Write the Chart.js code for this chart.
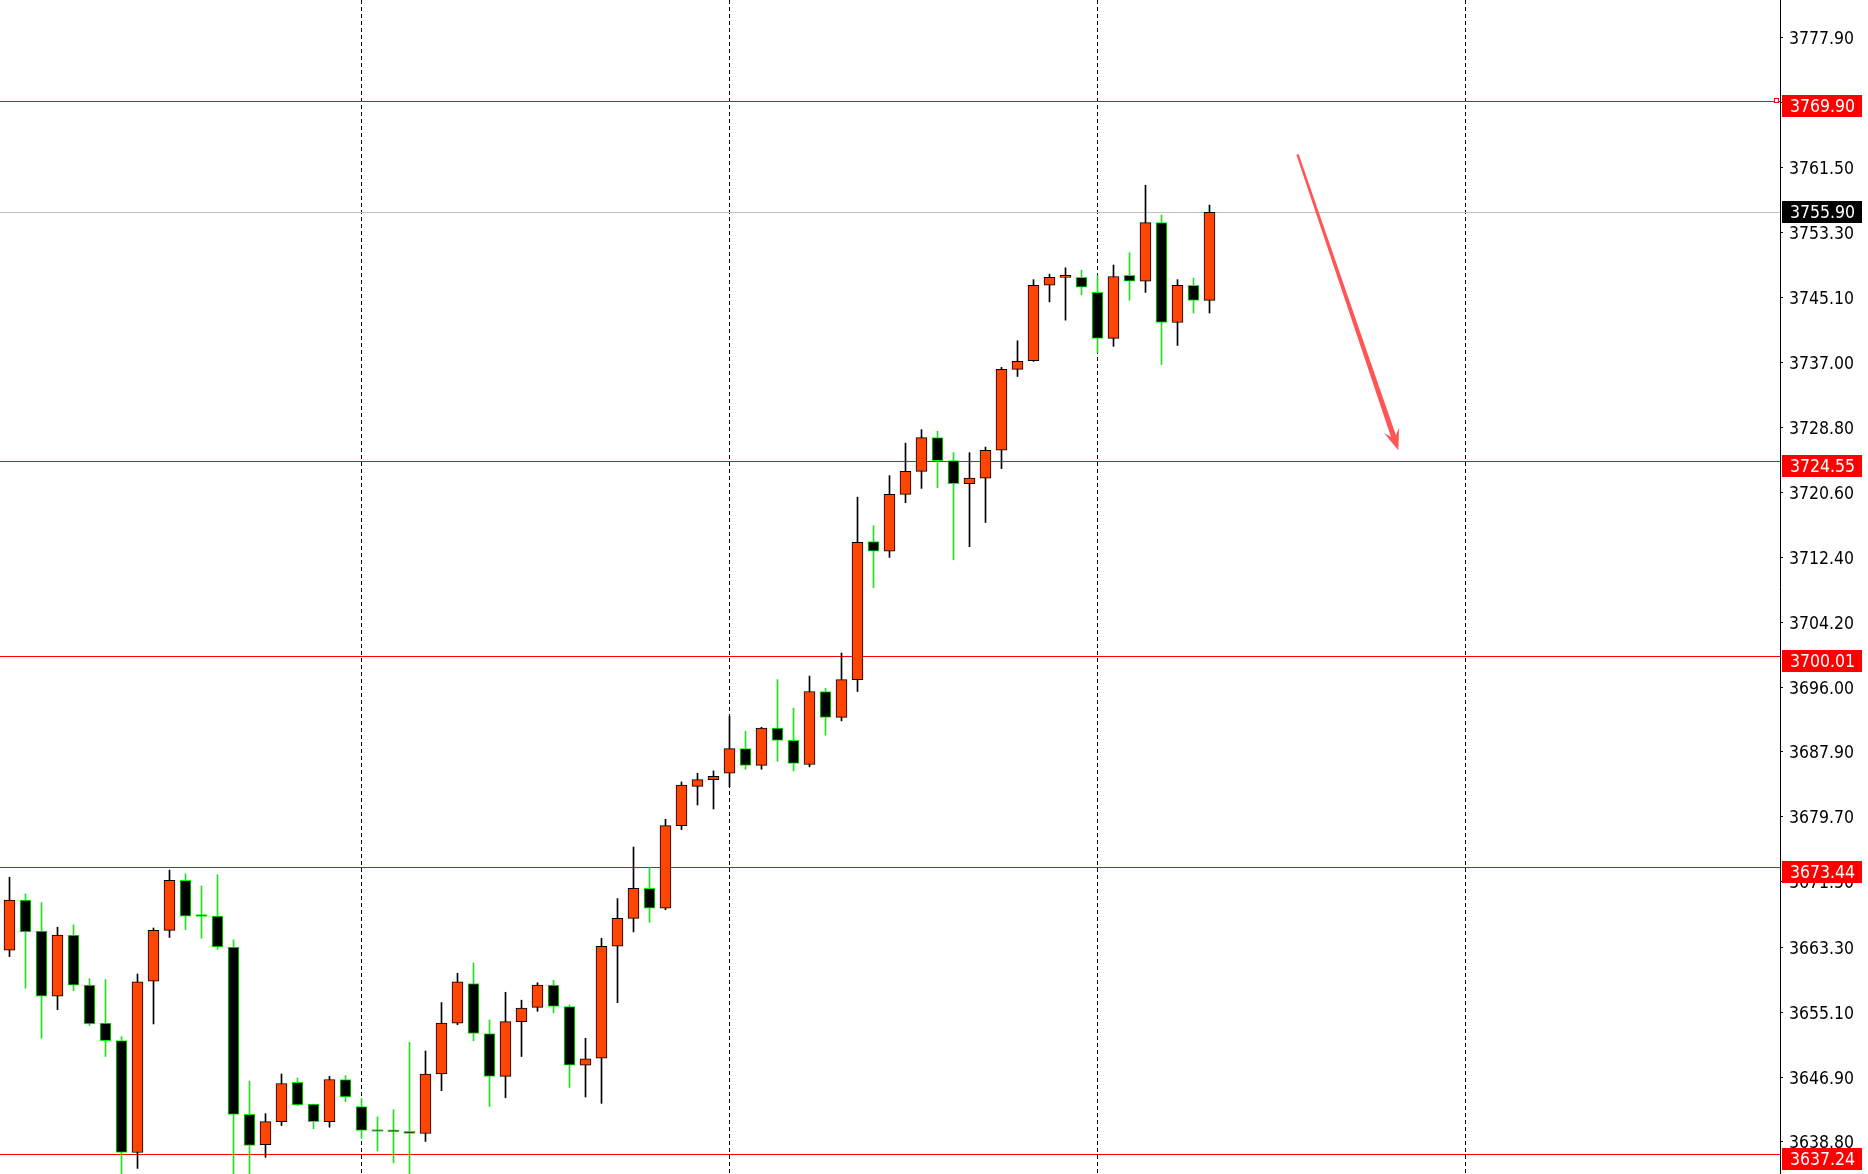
<!DOCTYPE html>
<html><head><meta charset="utf-8">
<style>html,body{margin:0;padding:0;background:#fff;overflow:hidden}canvas{display:block}</style>
<script src="https://cdn.jsdelivr.net/npm/chart.js@4.4.1/dist/chart.umd.min.js"></script>
</head><body>
<canvas id="c" width="1868" height="1174"></canvas>
<script>
// ---- data ----
const opens  = [3662.9,3669.2,3665.3,3657.1,3664.8,3658.5,3653.7,3651.5,3637.4,3659.0,
                3665.4,3671.7,3667.2,3667.2,3663.3,3642.2,3638.4,3641.3,3646.25,3643.5,
                3641.3,3646.6,3643.2,3640.2,3640.07,3640.07,3639.8,3647.3,3653.7,3658.7,
                3652.4,3647.0,3653.9,3655.7,3658.5,3655.8,3648.4,3649.3,3663.4,3666.9,
                3670.7,3668.2,3678.6,3683.55,3684.4,3685.2,3688.3,3686.2,3690.9,3689.35,
                3686.3,3695.5,3692.25,3697.0,3714.4,3713.2,3720.35,3723.25,3727.5,3724.6,
                3721.7,3722.4,3725.9,3736.1,3737.2,3746.7,3747.7,3747.7,3745.8,3740.0,
                3747.95,3747.2,3754.6,3742.0,3746.7,3744.8];
const highs  = [3672.1,3670.0,3668.9,3665.8,3666.1,3659.3,3659.2,3652.0,3659.9,3665.7,
                3673.0,3672.5,3671.0,3672.4,3664.2,3646.4,3642.3,3647.3,3646.8,3643.5,
                3647.0,3647.1,3644.2,3641.9,3642.8,3651.3,3650.2,3656.3,3660.0,3661.3,
                3654.1,3657.6,3656.6,3658.8,3659.1,3656.0,3651.8,3664.4,3669.4,3675.9,
                3673.3,3679.4,3684.1,3685.2,3685.5,3692.4,3690.5,3691.0,3697.0,3693.4,
                3697.45,3695.9,3700.35,3720.0,3716.4,3722.7,3726.8,3728.5,3728.3,3725.6,
                3725.6,3726.3,3736.35,3739.7,3747.4,3748.1,3748.9,3748.6,3747.9,3749.25,
                3750.8,3759.3,3755.55,3747.4,3747.6,3756.8];
const lows   = [3662.1,3658.1,3651.8,3655.4,3657.8,3653.4,3649.5,3633.0,3635.4,3653.6,
                3664.5,3665.5,3664.4,3663.0,3633.0,3633.0,3636.8,3640.8,3643.3,3640.4,
                3640.6,3643.8,3639.2,3637.6,3636.1,3633.0,3638.8,3645.2,3653.5,3651.5,
                3643.2,3644.3,3649.5,3655.2,3655.0,3645.6,3644.4,3643.6,3656.3,3665.2,
                3666.4,3668.0,3678.1,3681.2,3680.7,3683.5,3685.7,3685.7,3686.7,3685.5,
                3686.0,3690.0,3691.8,3695.5,3708.6,3712.4,3719.3,3721.1,3721.2,3712.1,
                3713.75,3716.8,3723.6,3735.2,3737.1,3744.6,3742.3,3745.5,3738.2,3739.0,
                3744.8,3745.8,3736.7,3739.1,3743.2,3743.2];
const closes = [3669.2,3665.2,3657.1,3664.8,3658.5,3653.6,3651.5,3637.4,3658.9,3665.4,
                3671.7,3667.2,3667.15,3663.3,3642.2,3638.3,3641.3,3646.1,3643.4,3641.3,
                3646.6,3644.4,3640.2,3640.05,3640.0,3639.8,3647.3,3653.7,3658.9,3652.4,
                3647.0,3653.9,3655.6,3658.5,3655.8,3648.4,3649.2,3663.4,3666.9,3670.7,
                3668.2,3678.6,3683.7,3684.4,3684.8,3688.3,3686.2,3690.9,3689.35,3686.45,
                3695.5,3692.25,3697.0,3714.3,3713.2,3720.35,3723.25,3727.5,3724.6,3721.7,
                3722.4,3725.9,3736.1,3737.1,3746.7,3747.7,3747.8,3746.45,3740.0,3747.8,
                3747.2,3754.6,3742.0,3746.7,3744.8,3755.9];
const yTickValues = [3777.90,3769.70,3761.50,3753.30,3745.10,3737.00,3728.80,3720.60,3712.40,
                     3704.20,3696.00,3687.90,3679.70,3671.50,3663.30,3655.10,3646.90,3638.80];
const levelLines = [3769.90, 3724.55, 3700.01, 3673.44, 3637.24];
const currentPrice = 3755.90;
const separatorBars = [22, 45, 68, 91];
const arrowFrom = [80.5, 3763.2];
const arrowTo   = [86.8, 3725.9];

// ---- styles ----
const BULL_FILL = '#ff4500', BULL_LINE = '#000000';
const BEAR_FILL = '#000000', BEAR_LINE = '#00ff00', BEAR_WICK = '#1fe01f';
const FONT = '"DejaVu Sans Condensed", "DejaVu Sans", sans-serif';
const FONT_SIZE = 17.5;

const isBull = i => closes[i] > opens[i];
const idx = opens.map((_, i) => i);

const bodyData = idx.map(i => ({x: i, y: [opens[i], closes[i]]}));
const wickData = idx.map(i => ({x: i, y: [lows[i], highs[i]]}));

const overlay = {
  id: 'overlay',
  beforeDatasetsDraw(chart) {
    const {ctx, chartArea: a, scales: {x, y}} = chart;
    ctx.save();
    ctx.strokeStyle = '#000'; ctx.lineWidth = 1; ctx.setLineDash([4, 3]);
    separatorBars.forEach(b => {
      const px = Math.round(x.getPixelForValue(b) - 0.5) + 0.5;
      if (px < a.left || px > a.right) return;
      ctx.beginPath(); ctx.moveTo(px, a.top); ctx.lineTo(px, a.bottom); ctx.stroke();
    });
    ctx.setLineDash([]);
    ctx.strokeStyle = '#c0c0c0';
    let py = Math.round(y.getPixelForValue(currentPrice)) + 0.5;
    ctx.beginPath(); ctx.moveTo(a.left, py); ctx.lineTo(a.right, py); ctx.stroke();
    ctx.strokeStyle = '#ff0000';
    levelLines.forEach(v => {
      const ly = Math.round(y.getPixelForValue(v)) + 0.5;
      ctx.beginPath(); ctx.moveTo(a.left, ly); ctx.lineTo(a.right, ly); ctx.stroke();
    });
    ctx.restore();
  },
  afterDatasetsDraw(chart) {
    const {ctx, scales: {x, y}} = chart;
    const p0 = {x: x.getPixelForValue(arrowFrom[0]), y: y.getPixelForValue(arrowFrom[1])};
    const p1 = {x: x.getPixelForValue(arrowTo[0]), y: y.getPixelForValue(arrowTo[1])};
    const dx = p1.x - p0.x, dy = p1.y - p0.y, L = Math.hypot(dx, dy);
    const ux = dx / L, uy = dy / L, nx = -uy, ny = ux;
    const headLen = 21, headW = 8, notch = 15, w0 = 1.2, w1 = 2.6;
    const bx = p1.x - ux * notch, by = p1.y - uy * notch;
    const hx = p1.x - ux * headLen, hy = p1.y - uy * headLen;
    ctx.save();
    ctx.fillStyle = '#ff5555';
    ctx.beginPath();
    ctx.moveTo(p0.x + nx * w0, p0.y + ny * w0);
    ctx.lineTo(bx + nx * w1, by + ny * w1);
    ctx.lineTo(hx + nx * headW, hy + ny * headW);
    ctx.lineTo(p1.x, p1.y);
    ctx.lineTo(hx - nx * headW, hy - ny * headW);
    ctx.lineTo(bx - nx * w1, by - ny * w1);
    ctx.lineTo(p0.x - nx * w0, p0.y - ny * w0);
    ctx.closePath();
    ctx.fill();
    ctx.restore();
  },
  afterDraw(chart) {
    const {ctx, chartArea: a, scales: {y}} = chart;
    ctx.save();
    ctx.font = FONT_SIZE + 'px ' + FONT;
    ctx.textBaseline = 'middle';
    ctx.textAlign = 'left';
    const box = (v, bg, shift) => {
      const ly = Math.round(y.getPixelForValue(v));
      ctx.fillStyle = bg;
      ctx.fillRect(a.right + 2, ly - 11 + shift, 80, 22);
      ctx.fillStyle = '#ffffff';
      ctx.fillText(v.toFixed(2), a.right + 10, ly + 1 + shift);
    };
    levelLines.forEach(v => box(v, '#ff0000', 5));
    box(currentPrice, '#000000', 0);
    const sy = Math.round(y.getPixelForValue(levelLines[0]));
    ctx.strokeStyle = '#ff0000'; ctx.lineWidth = 1;
    ctx.fillStyle = '#ffffff';
    ctx.fillRect(a.right - 5, sy - 2, 4, 4);
    ctx.strokeRect(a.right - 5.5, sy - 2.5, 4, 4);
    ctx.restore();
  }
};

new Chart(document.getElementById('c'), {
  type: 'bar',
  data: {
    datasets: [
      {
        label: 'body', data: bodyData, order: 0, grouped: false,
        barThickness: 11, minBarLength: 2, borderWidth: 1, borderSkipped: false,
        backgroundColor: idx.map(i => isBull(i) ? BULL_FILL : BEAR_FILL),
        borderColor: idx.map(i => isBull(i) ? BULL_LINE : BEAR_LINE)
      },
      {
        label: 'wick', data: wickData, order: 1, grouped: false,
        barThickness: 1, borderWidth: 0,
        backgroundColor: idx.map(i => isBull(i) ? BULL_LINE : BEAR_WICK)
      }
    ]
  },
  options: {
    responsive: false, animation: false, devicePixelRatio: 1,
    layout: {padding: 0},
    plugins: {legend: {display: false}, tooltip: {enabled: false}, title: {display: false}},
    scales: {
      x: {type: 'linear', display: false, min: -0.59375, max: 110.65625, offset: false},
      y: {
        position: 'right', min: 3634.695, max: 3782.647,
        afterFit(s) { s.width = 88; s.paddingTop = 0; s.paddingBottom = 0; },
        afterBuildTicks(s) { s.ticks = yTickValues.map(v => ({value: v})); },
        ticks: {
          autoSkip: false, padding: 6, color: '#000', labelOffset: 2,
          font: {family: FONT, size: FONT_SIZE},
          callback: v => Number(v).toFixed(2)
        },
        grid: {drawOnChartArea: false, drawTicks: true, tickLength: 3, color: '#000', lineWidth: 1},
        border: {display: true, color: '#000', width: 1}
      }
    }
  },
  plugins: [overlay]
});
</script>
</body></html>
